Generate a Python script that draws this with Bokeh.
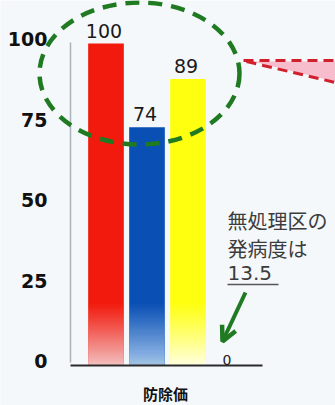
from bokeh.plotting import figure
from bokeh.models import Range1d, ColumnDataSource, Arrow, OpenHead
from bokeh.core.properties import value
from bokeh.embed import file_html
from bokeh.resources import INLINE

# --- data -------------------------------------------------------------
categories = [1, 2, 3, 4]
values = [100, 74, 89, 0]
value_labels = ["100", "74", "89", "0"]
bar_colors = ["#f2190d", "#0a4fb4", "#ffff10", "#ffffff"]
fade_colors = ["#fbd3de", "#cfe6fb", "#ffffff", "#ffffff"]
y_ticks = [0, 25, 50, 75, 100]
tick_labels = ["0", "25", "50", "75", "100"]
x_title = "防除価"
note_lines = ["無処理区の", "発病度は"]
note_value = "13.5"

# --- layout -----------------------------------------------------------
W, H = 335, 405
BG = "#f4f8fb"
X0, DX = 64.5, 41.0    # canvas pixel of x=0, pixels per category step
Y0, DY = 365.0, 3.22   # canvas pixel of y=0, pixels per unit


def xd(px):
    return (px - X0) / DX


def yd(py):
    return (Y0 - py) / DY


p = figure(width=W, height=H,
           x_range=Range1d(xd(0), xd(W)), y_range=Range1d(yd(H), yd(0)),
           x_axis_type=None, y_axis_type=None,
           output_backend="svg", toolbar_location=None, min_border=0,
           background_fill_color=BG, border_fill_color=BG,
           outline_line_color=None)
p.grid.visible = False

BAR_W = 0.87

# bars
p.vbar(x=categories, top=values, width=BAR_W, color=bar_colors, line_color=None)

# soft fade toward the base of each bar: nested translucent layers that all
# start at the baseline, so there are no seams between them
FADE_TOP = 20.0
N = 90
MAX_OP = 0.95
a = 1 - (1 - MAX_OP) ** (1 / N)
left, right, bottom, top, fcol = [], [], [], [], []
for c, v, fc in zip(categories, values, fade_colors):
    if v <= 0:
        continue
    h = min(FADE_TOP, v)
    for j in range(1, N + 1):
        level = 1 - (1 - a) ** j
        t = h * (1 - (level / MAX_OP) ** (1 / 1.1))
        left.append(c - BAR_W / 2)
        right.append(c + BAR_W / 2)
        bottom.append(0)
        top.append(max(t, 0.05))
        fcol.append(fc)
p.quad(left=left, right=right, bottom=bottom, top=top,
       fill_color=fcol, fill_alpha=a, line_color=None)

# value labels above the bars
lab_src = ColumnDataSource(dict(
    x=categories,
    y=[v + (13 if v > 0 else 6) / DY for v in values],
    text=value_labels,
    size=["19px" if v > 0 else "14px" for v in values],
))
p.text(x="x", y="y", text="text", source=lab_src, text_align="center",
       text_baseline="alphabetic", text_font=value("DejaVu Sans"),
       text_font_size="size", text_color="#1a1a1a", x_offset=-2)

# axis lines
p.segment(x0=[xd(70)], y0=[yd(362)], x1=[xd(70)], y1=[yd(42)],
          line_color="#aab2ba", line_width=1.5)
p.segment(x0=[xd(70)], y0=[0], x1=[xd(262)], y1=[0],
          line_color="#2a2a2a", line_width=2)

# tick labels
p.text(x=[xd(47)] * len(y_ticks), y=[t + 4.5 / DY for t in y_ticks],
       text=tick_labels, text_align="right", text_baseline="middle",
       text_font=value("DejaVu Sans"), text_font_style="bold",
       text_font_size="19px", text_color="#111111")

# x title
p.text(x=[xd(165)], y=[yd(393)], text=[x_title], text_align="center",
       text_baseline="middle", text_font=value("Noto Sans CJK JP"),
       text_font_style="bold", text_font_size="15px", text_color="#111111")

# dashed ellipse around the three bars' tops
GREEN = "#1f7a22"
p.ellipse(x=[xd(139)], y=[yd(73)], width=[200 / DX], height=[142 / DY],
          fill_alpha=0, line_color=GREEN, line_width=4.5, line_dash="14 9")

# red dashed wedge leading off to the right
p.patch(x=[xd(252), xd(335), xd(335)], y=[yd(61), yd(61), yd(81)],
        fill_color="#f8aabd", fill_alpha=0.75, line_color=None)
p.segment(x0=[xd(243), xd(246)], y0=[yd(60), yd(61)],
          x1=[xd(335), xd(335)], y1=[yd(60), yd(82)],
          line_color="#d21f2c", line_width=3, line_dash="10 6")

# note on the untreated plot
p.text(x=[xd(227)] * 2, y=[yd(220), yd(248)], text=note_lines,
       text_align="left", text_baseline="middle",
       text_font=value("Noto Sans CJK JP"), text_font_size="20px",
       text_color="#3c3c3c")
p.text(x=[xd(227)], y=[yd(272)], text=[note_value], text_align="left",
       text_baseline="middle", text_font=value("DejaVu Sans"),
       text_font_size="20px", text_color="#3c3c3c")
p.segment(x0=[xd(227)], y0=[yd(284)], x1=[xd(278)], y1=[yd(284)],
          line_color="#555555", line_width=1.5)

# arrow pointing at the zero bar
p.add_layout(Arrow(x_start=xd(245), y_start=yd(292), x_end=xd(222), y_end=yd(341),
                   line_color=GREEN, line_width=4,
                   end=OpenHead(line_color=GREEN, line_width=4.5, size=15)))

open("out.html", "w").write(file_html(p, INLINE))
